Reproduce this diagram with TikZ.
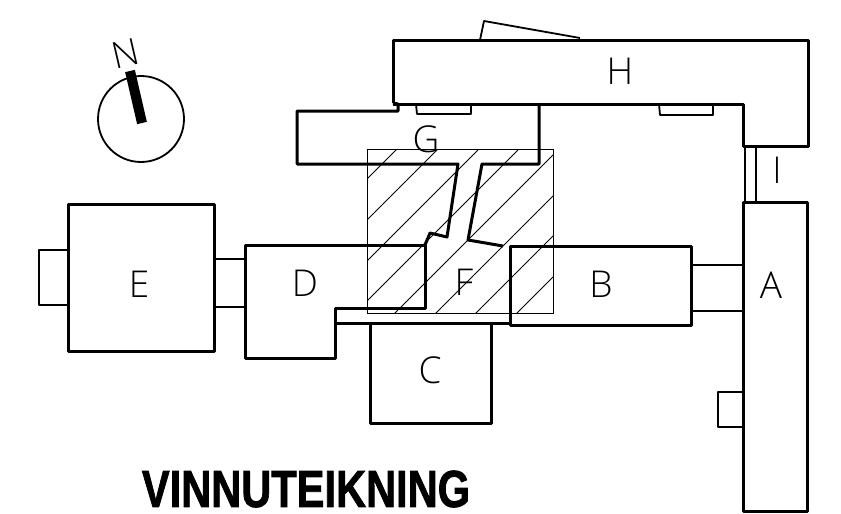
\documentclass[tikz,border=0pt]{standalone}
\usepackage{fontspec}
\usepackage{tikz}
\setmainfont{Liberation Sans}
\newfontfamily\thinfont{Open Sans Light}
\newfontfamily\titlefont[FakeBold=1.6]{Liberation Sans Bold}
\usetikzlibrary{positioning}
\tikzset{
  wall/.style={draw=black,line width=3pt,line join=round},
  link/.style={draw=black,line width=2.3pt},
  thinwall/.style={draw=black,line width=1.8pt,line join=round},
  hatch/.style={draw=black,line width=1pt},
  letter/.style={font=\thinfont\fontsize{37}{37}\selectfont,inner sep=0pt},
}
\begin{document}
\begin{tikzpicture}[x=1pt,y=-1pt]
        \useasboundingbox (0,0) rectangle (841,514);
        % hatched square
        \begin{scope}
          \clip (367,149) rectangle (553,313);
          \foreach \s in {546,587,628,668,708,749,789,830} {
            \draw[hatch] (\s-367,367) -- (\s-100,100);
          }
        \end{scope}
        \draw[hatch] (367,149) rectangle (553,313);
        % buildings
        \draw[wall] (393,103) -- (393,40) -- (808,40) -- (808,146) -- (743,146) -- (743,104) -- (393,104);
        \draw[thinwall] (480,40) -- (484,21) -- (580,38);
        \draw[thinwall] (416,104) -- (417,114) -- (471,114) -- (471,104);
        \draw[thinwall] (659,104) -- (660,115) -- (713,115) -- (713,104);
        \draw[wall] (393,103) -- (398,104) -- (398,111) -- (297,111) -- (297,164) -- (458,164) -- (447,237) -- (430,233) -- (425,245);
        \draw[wall] (539,104) -- (539,164) -- (482,164) -- (468,240) -- (503,246);
        \draw[wall] (425,245) -- (245,245) -- (245,358) -- (335,358) -- (335,308) -- (425,308) -- cycle;
        \draw[wall] (510,246) rectangle (691,325);
        \draw[wall] (335,308) -- (335,323) -- (510,323);
        \draw[wall] (370,323) rectangle (491,423);
        \draw[wall] (68,204) rectangle (214,351);
        \draw[thinwall] (68,250) -- (39,250) -- (39,305) -- (68,305);
        \draw[link] (214,259) -- (245,259);
        \draw[link] (214,307) -- (245,307);
        \draw[link] (691,265) -- (743,265);
        \draw[link] (691,311) -- (743,311);
        \draw[wall] (743,202) rectangle (807,511);
        \draw[thinwall] (743,392) -- (718,392) -- (718,427) -- (743,427);
        \draw[thinwall] (745,146) -- (745,202);
        \draw[thinwall] (756,146) -- (756,202);
        % letters
        \begin{scope}[every node/.style={letter}]
          \node (a) at (771,285) {A};
          \node (b) at (601,284) {B};
          \node (c) at (430,370) {C};
          \node (d) at (305,283) {D};
          \node (e) at (139,284) {E};
          \node (f) at (464,282) {F};
          \node (g) at (426,139) {G};
          \node (h) at (620,71) {H};
          \node (i) at (777,170) {I};
        \end{scope}
        % north
        \draw[thinwall] (141,119) circle (43);
        \draw[line width=10pt] (130,71) -- (142,123);
        \node[letter,rotate=13] (n) at (126,54) {N};
        % title
        \node[inner sep=0pt,font=\titlefont\fontsize{52}{52}\selectfont,xscale=0.8] (title) at (306,489) {VINNUTEIKNING};
      \end{tikzpicture}
\end{document}
